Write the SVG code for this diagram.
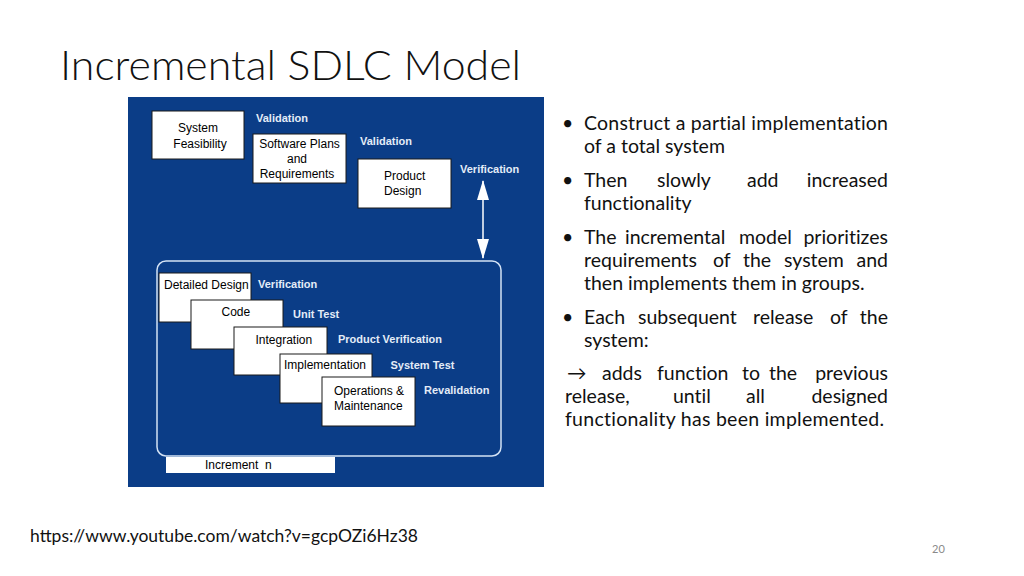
<svg xmlns="http://www.w3.org/2000/svg" width="1024" height="576" viewBox="0 0 1024 576">
<style>
.bx{fill:#ffffff;stroke:#1a1a1a;stroke-width:1}
.bt{font-family:"Liberation Sans",Arial,sans-serif;font-size:12px;fill:#000}
.lb{font-family:"Liberation Sans",Arial,sans-serif;font-size:11px;font-weight:bold;fill:#e4ecf7}
.body{font-family:Lato,"Open Sans",sans-serif;font-size:19.5px;fill:#111;font-variant-ligatures:none}
</style>
<defs>
<marker id="ah" viewBox="0 0 20 12" refX="19" refY="6" markerWidth="20" markerHeight="12" markerUnits="userSpaceOnUse" orient="auto-start-reverse">
<path d="M0,0 L20,6 L0,12 Z" fill="#ffffff"/>
</marker>
</defs>
<rect width="1024" height="576" fill="#ffffff"/>
<text x="60" y="80" font-family="Lato,'Open Sans',sans-serif" font-weight="300" font-size="42" fill="#111" textLength="461" lengthAdjust="spacingAndGlyphs" style="font-variant-ligatures:none">Incremental SDLC Model</text>

<rect id="panel" x="128" y="97" width="416" height="390" fill="#0b3d87"/>

<g id="container">
<rect x="157" y="261" width="344" height="195" rx="9" fill="none" stroke="#d3e2f5" stroke-width="1.5"/>
</g>

<g id="connectors">
<line x1="483" y1="181" x2="483" y2="258" stroke="#ffffff" stroke-width="1.5" marker-start="url(#ah)" marker-end="url(#ah)"/>
</g>

<g id="n-system-feasibility">
<rect class="bx" x="152" y="111" width="92" height="48"/>
<text class="bt" x="198" y="132" text-anchor="middle">System</text>
<text class="bt" x="200" y="147.5" text-anchor="middle">Feasibility</text>
</g>
<text class="lb" x="256" y="122">Validation</text>

<g id="n-software-plans">
<rect class="bx" x="253" y="134" width="93" height="49"/>
<text class="bt" x="299.5" y="148" text-anchor="middle">Software Plans</text>
<text class="bt" x="297" y="163" text-anchor="middle">and</text>
<text class="bt" x="297" y="178" text-anchor="middle">Requirements</text>
</g>
<text class="lb" x="360" y="144.5">Validation</text>

<g id="n-product-design">
<rect class="bx" x="358" y="159" width="93" height="49"/>
<text class="bt" x="384" y="179.5">Product</text>
<text class="bt" x="384" y="194.5">Design</text>
</g>
<text class="lb" x="460" y="172.5">Verification</text>

<g id="n-detailed-design">
<rect class="bx" x="159" y="273" width="92" height="49"/>
<text class="bt" x="164" y="288.5">Detailed Design</text>
</g>
<text class="lb" x="258" y="288">Verification</text>

<g id="n-code">
<rect class="bx" x="191" y="300" width="92" height="49"/>
<text class="bt" x="221.5" y="315.5">Code</text>
</g>
<text class="lb" x="293" y="318">Unit Test</text>

<g id="n-integration">
<rect class="bx" x="234" y="327" width="93" height="48"/>
<text class="bt" x="255.5" y="343.5">Integration</text>
</g>
<text class="lb" x="338" y="343">Product Verification</text>

<g id="n-implementation">
<rect class="bx" x="280" y="354" width="92" height="49"/>
<text class="bt" x="284" y="369">Implementation</text>
</g>
<text class="lb" x="390.5" y="368.5">System Test</text>

<g id="n-operations">
<rect class="bx" x="322" y="377" width="93" height="49"/>
<text class="bt" x="334" y="394.5">Operations &amp;</text>
<text class="bt" x="334" y="410">Maintenance</text>
</g>
<text class="lb" x="424" y="394">Revalidation</text>

<g id="n-increment">
<rect x="166" y="457" width="169" height="16" fill="#ffffff"/>
<text class="bt" x="205" y="469" xml:space="preserve">Increment  n</text>
</g>

<g id="bullets">
<text class="body" x="562" y="130">•</text>
<text class="body" x="584" y="130" textLength="304" lengthAdjust="spacing">Construct a partial implementation</text>
<text class="body" x="584" y="153">of a total system</text>

<text class="body" x="562" y="187">•</text>
<text class="body" y="187"><tspan x="584">Then</tspan><tspan x="657">slowly</tspan><tspan x="747">add</tspan></text>
<text class="body" x="888" y="187" text-anchor="end">increased</text>
<text class="body" x="584" y="210">functionality</text>

<text class="body" x="562" y="244">•</text>
<text class="body" y="244"><tspan x="584">The</tspan><tspan x="625">incremental</tspan><tspan x="739">model</tspan></text>
<text class="body" x="888" y="244" text-anchor="end">prioritizes</text>
<text class="body" y="267"><tspan x="584">requirements</tspan><tspan x="713">of</tspan><tspan x="743">the</tspan><tspan x="784">system</tspan></text>
<text class="body" x="888" y="267" text-anchor="end">and</text>
<text class="body" x="584" y="290">then implements them in groups.</text>

<text class="body" x="562" y="324">•</text>
<text class="body" y="324"><tspan x="584">Each</tspan><tspan x="638">subsequent</tspan><tspan x="753">release</tspan><tspan x="830">of</tspan></text>
<text class="body" x="888" y="324" text-anchor="end">the</text>
<text class="body" x="584" y="347">system:</text>

<text class="body" y="380"><tspan x="567">→</tspan><tspan x="602">adds</tspan><tspan x="657">function</tspan><tspan x="742">to</tspan><tspan x="769">the</tspan></text>
<text class="body" x="888" y="380" text-anchor="end">previous</text>
<text class="body" y="403"><tspan x="565">release,</tspan><tspan x="673">until</tspan><tspan x="746">all</tspan></text>
<text class="body" x="888" y="403" text-anchor="end">designed</text>
<text class="body" x="565" y="426" textLength="319" lengthAdjust="spacing">functionality has been implemented.</text>
</g>

<text x="30" y="542" font-family="Lato,'Open Sans',sans-serif" font-size="17.5" fill="#111" textLength="388" lengthAdjust="spacingAndGlyphs">https://www.youtube.com/watch?v=gcpOZi6Hz38</text>
<text x="932" y="553" font-family="Lato,'Open Sans',sans-serif" font-size="11" fill="#8a8a8a">20</text>
</svg>
